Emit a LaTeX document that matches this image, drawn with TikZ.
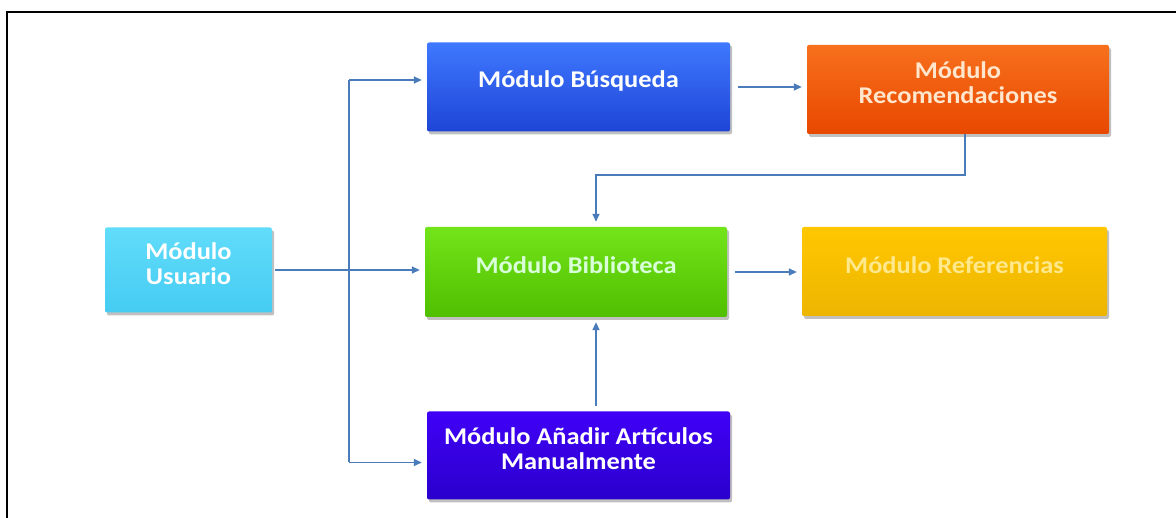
\documentclass[tikz,border=0pt]{standalone}
\usepackage{fontspec}
\setmainfont{Carlito}[FakeStretch=1.1]
\usetikzlibrary{arrows.meta,shadows}

\definecolor{linkblue}{HTML}{4A7CBB}
\definecolor{busTop}{HTML}{3F78FF}
\definecolor{busBot}{HTML}{1E45D6}
\definecolor{recTop}{HTML}{F7701C}
\definecolor{recBot}{HTML}{E84800}
\definecolor{usrTop}{HTML}{62DCFA}
\definecolor{usrBot}{HTML}{45CCF2}
\definecolor{bibTop}{HTML}{74E41A}
\definecolor{bibBot}{HTML}{4FBF00}
\definecolor{refTop}{HTML}{FFC700}
\definecolor{refBot}{HTML}{EDB500}
\definecolor{addTop}{HTML}{4000F6}
\definecolor{addBot}{HTML}{2A00CC}
\definecolor{paleyellow}{HTML}{FFE98C}
\definecolor{palepeach}{HTML}{FFE6CC}

\tikzset{
  modbox/.style={rectangle, rounded corners=2pt, inner sep=0pt,
    drop shadow={shadow xshift=2pt, shadow yshift=-3pt, opacity=0.35, fill=black!70}},
  modtext/.style={align=center, text=white, inner sep=0pt,
    font=\fontsize{24}{25}\selectfont\bfseries},
  link/.style={draw=linkblue, line width=1.6pt,
    -{Triangle[length=8pt,width=7pt]}, shorten >=5pt},
  plain/.style={draw=linkblue, line width=1.6pt}
}

\begin{document}
\begin{tikzpicture}[x=1pt,y=-1pt]
\useasboundingbox (0,0) rectangle (1176,518);
\fill[white] (0,0) rectangle (1176,518);

% outer frame
\draw[line width=2pt, black] (7,518) -- (7,12) -- (1176,12);

% module boxes
\node[modbox, minimum width=303pt, minimum height=89pt,
      top color=busTop, bottom color=busBot] (bus) at (578.5,87) {};
\node[modbox, minimum width=302pt, minimum height=89pt,
      top color=recTop, bottom color=recBot] (rec) at (958,89.5) {};
\node[modbox, minimum width=167pt, minimum height=85pt,
      top color=usrTop, bottom color=usrBot] (usr) at (188.5,270) {};
\node[modbox, minimum width=302pt, minimum height=90pt,
      top color=bibTop, bottom color=bibBot] (bib) at (576,272) {};
\node[modbox, minimum width=305pt, minimum height=89pt,
      top color=refTop, bottom color=refBot] (ref) at (954.5,271.5) {};
\node[modbox, minimum width=303pt, minimum height=88pt,
      top color=addTop, bottom color=addBot] (add) at (578.5,455.5) {};

% module labels
\node[modtext] (busT) at ([yshift=6pt]bus.center) {M\'odulo B\'usqueda};
\node[modtext, text=palepeach] (recT) at ([yshift=7pt]rec.center) {M\'odulo\\Recomendaciones};
\node[modtext] (usrT) at ([yshift=6pt]usr.center) {M\'odulo\\Usuario};
\node[modtext, text=white!85!green] (bibT) at ([yshift=7pt]bib.center) {M\'odulo Biblioteca};
\node[modtext, text=paleyellow] (refT) at ([yshift=6pt]ref.center) {M\'odulo Referencias};
\node[modtext] (addT) at ([yshift=7pt]add.center) {M\'odulo A\~nadir Art\'iculos\\Manualmente};

% connectors
\coordinate (split) at (349,272);
\coordinate (elbow) at (596,175);

\draw[link] ([xshift=8pt]bus.east) -- (rec.west |- bus.east);
\draw[link] ([xshift=3pt]usr.east) -- (bib.west |- usr.east);
\draw[plain] ([yshift=7pt]split |- bus.west) -- ([yshift=-7pt]split |- add.west);
\draw[link] ([yshift=7pt]split |- bus.west) -- ([yshift=7pt]bus.west);
\draw[link] ([yshift=-7pt]split |- add.west) -- ([yshift=-7pt]add.west);
\draw[link] ([xshift=7pt]rec.south) |- (elbow) -- (elbow |- bib.north);
\draw[link] ([yshift=5pt]elbow |- add.north) -- (elbow |- bib.south);
\draw[link] ([xshift=8pt]bib.east) -- (ref.west |- bib.east);
\end{tikzpicture}
\end{document}
